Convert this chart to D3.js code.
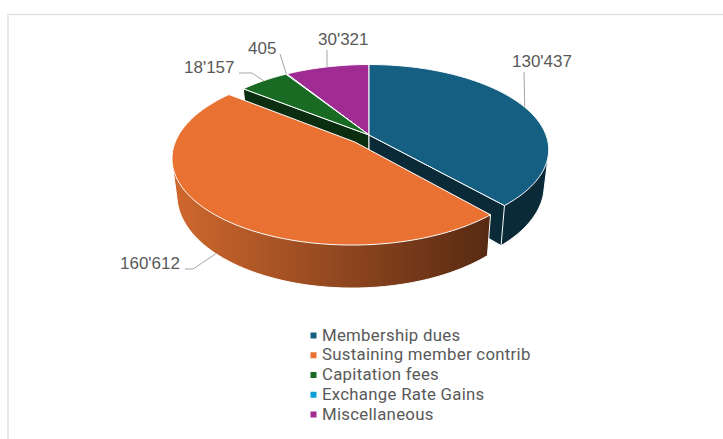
<!DOCTYPE html>
<html>
<head>
<meta charset="utf-8">
<style>
  html, body { margin: 0; padding: 0; background: #fff; overflow: hidden; }
  svg { display: block; }
</style>
<script src="https://cdn.jsdelivr.net/npm/d3@7"></script>
</head>
<body>
<script>
const categories = ["Membership dues", "Sustaining member contrib", "Capitation fees", "Exchange Rate Gains", "Miscellaneous"];
const values = [130437, 160612, 18157, 405, 30321];
const explode = [0, 0.115, 0, 0, 0];
const colors = ["#156082", "#E97132", "#196B24", "#0F9ED5", "#A02B93"];
const wallColors = ["#0a2a38", "#6b3316", "#0b2e10", "#07455d", "#451340"];

const w = 723;
const h = 439;

// Pie plane is drawn in perspective: far side squashed, near side stretched
const cx = 369;
const cy = 135;
const rx = 177;
const ry = 82.6;
const persp = 0.172;
const depth = 34.75;
const shrinkX = 0.975;
const stretchY = 1.075;

function project(px, py, level) {
  const d = 1 + persp * py;
  const sx = level ? shrinkX : 1;
  const sy = level ? stretchY : 1;
  return [cx + sx * rx * px / d, cy + level * depth - sy * ry * py / d];
}

function pointAt(angle, off, level, mid) {
  const px = Math.sin(angle) + off * Math.sin(mid);
  const py = Math.cos(angle) + off * Math.cos(mid);
  return project(px, py, level);
}

function apex(off, level, mid) {
  return project(off * Math.sin(mid), off * Math.cos(mid), level);
}

function arcPoints(a0, a1, off, level, mid) {
  const n = Math.max(2, Math.ceil((a1 - a0) / 0.02));
  return d3.range(n + 1).map(i => pointAt(a0 + (a1 - a0) * i / n, off, level, mid));
}

const line = d3.line();
const closed = pts => line(pts) + "Z";

const pie = d3.pie().sort(null);
const slices = pie(values).map((d, i) => ({
  ...d,
  i,
  mid: (d.startAngle + d.endAngle) / 2,
  off: explode[i]
}));

const svg = d3.select("body").append("svg")
  .attr("width", w)
  .attr("height", h);

// Chart area border, only top and left show in the picture
svg.append("path")
  .attr("d", "M8,439V14.5H723")
  .attr("fill", "none")
  .attr("stroke", "#e2e2e2")
  .attr("stroke-width", 1.5);

const grad = svg.append("defs").append("linearGradient")
  .attr("id", "orangeWall")
  .attr("gradientUnits", "userSpaceOnUse")
  .attr("x1", 172).attr("x2", 488)
  .attr("y1", 0).attr("y2", 0);
grad.append("stop").attr("offset", 0).attr("stop-color", "#d0682e");
grad.append("stop").attr("offset", 1).attr("stop-color", "#582a12");

const edge = "#ffffff";

// Hull of both rims, so the silhouette runs along the tangent between them
function wall(s) {
  const top = arcPoints(s.startAngle, s.endAngle, s.off, 0, s.mid);
  const bottom = arcPoints(s.startAngle, s.endAngle, s.off, 1, s.mid);
  return closed(d3.polygonHull(top.concat(bottom)));
}

function cutWall(s, angle) {
  return closed([
    apex(s.off, 0, s.mid),
    pointAt(angle, s.off, 0, s.mid),
    pointAt(angle, s.off, 1, s.mid),
    apex(s.off, 1, s.mid)
  ]);
}

function topFace(s) {
  return closed([apex(s.off, 0, s.mid)].concat(arcPoints(s.startAngle, s.endAngle, s.off, 0, s.mid)));
}

function addPath(d, fill) {
  return svg.append("path")
    .attr("d", d)
    .attr("fill", fill)
    .attr("stroke", edge)
    .attr("stroke-width", 1)
    .attr("stroke-linejoin", "round");
}

// Only the faces turned to the viewer are drawn
addPath(cutWall(slices[2], slices[2].startAngle), wallColors[2]);
addPath(wall(slices[0]), wallColors[0]);
addPath(cutWall(slices[0], slices[0].endAngle), wallColors[0]);

[4, 3, 2, 0].forEach(i => addPath(topFace(slices[i]), colors[i]));

// Exploded orange slice sits in front of the others
addPath(wall(slices[1]), "url(#orangeWall)");
addPath(topFace(slices[1]), colors[1]);

// Data labels with leader lines
const fmt = d3.formatLocale({ thousands: "'", grouping: [3], decimal: ".", currency: ["", ""] }).format(",d");

const labelLayout = [
  { x: 512, y: 67, path: [[524, 72]], level: 0 },
  { x: 120, y: 269, path: [[185, 269], [193, 269]], level: 1 },
  { x: 184, y: 73, path: [[239, 73], [252, 73]], level: 0 },
  { x: 248, y: 54, path: [[280, 54]], level: 0 },
  { x: 318, y: 45, path: [[327, 50]], level: 0 }
];

slices.forEach((s, i) => {
  const l = labelLayout[i];
  const anchor = pointAt(s.mid, s.off, l.level, s.mid);
  svg.append("path")
    .attr("d", line(l.path.concat([anchor])))
    .attr("fill", "none")
    .attr("stroke", "#a6a6a6")
    .attr("stroke-width", 1);
  svg.append("text")
    .attr("x", l.x)
    .attr("y", l.y)
    .attr("font-family", "'Liberation Sans', Arial, sans-serif")
    .attr("font-size", 17)
    .attr("fill", "#595959")
    .text(fmt(values[i]));
});

// Legend
const legendY = d3.scalePoint().domain(categories).range([335, 414]);
const legend = svg.append("g");

legend.selectAll("rect")
  .data(categories)
  .join("rect")
  .attr("x", 310.5)
  .attr("y", d => legendY(d) - 2.5)
  .attr("width", 6)
  .attr("height", 6)
  .attr("fill", (d, i) => colors[i]);

legend.selectAll("text")
  .data(categories)
  .join("text")
  .attr("x", 322)
  .attr("y", d => legendY(d) + 5.5)
  .attr("font-family", "Roboto, sans-serif")
  .attr("font-size", 16.8)
  .attr("letter-spacing", 0.28)
  .attr("fill", "#595959")
  .text(d => d);
</script>
</body>
</html>
